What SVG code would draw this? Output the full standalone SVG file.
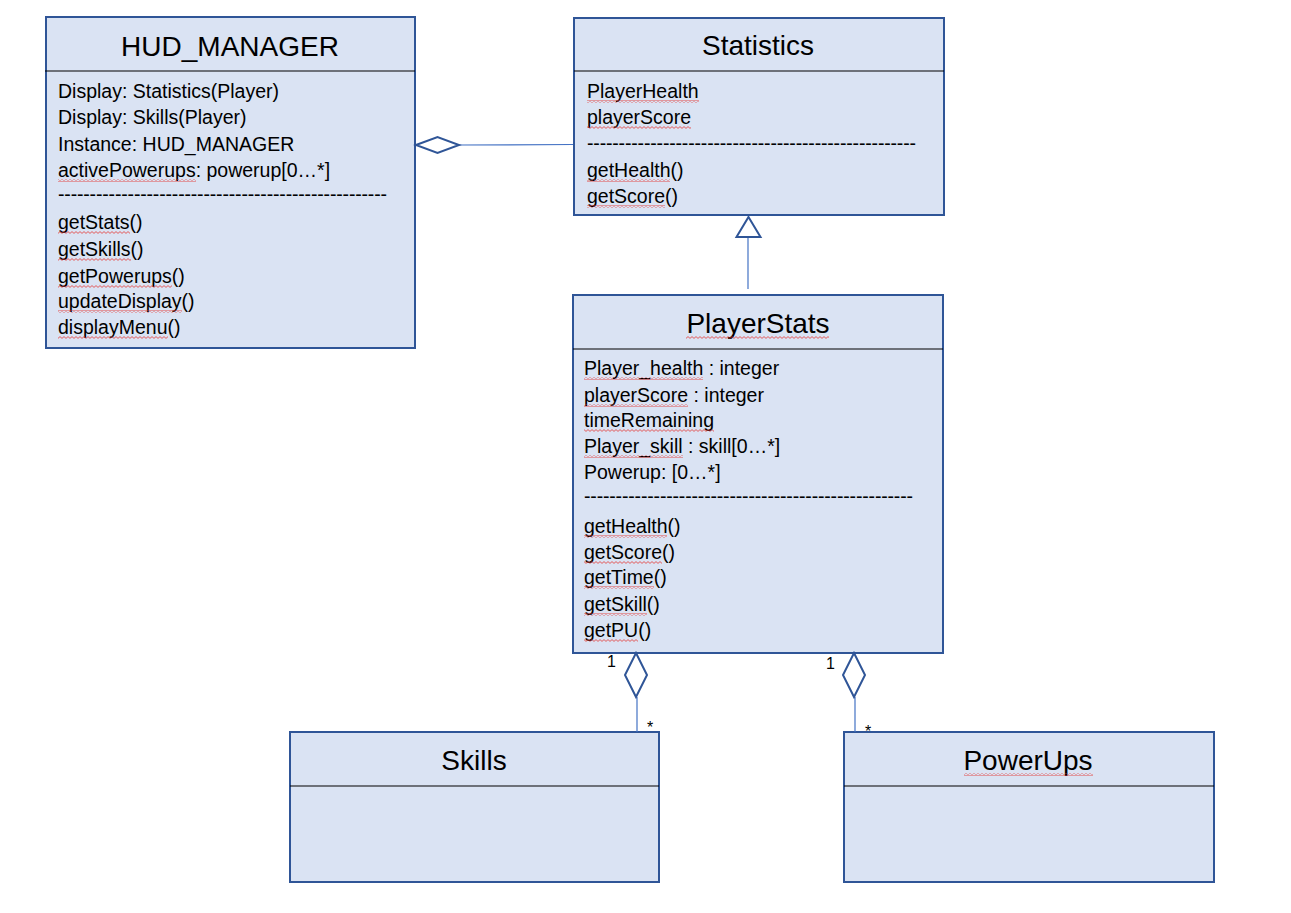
<svg xmlns="http://www.w3.org/2000/svg" width="1291" height="913" viewBox="0 0 1291 913">
<style>
.box{fill:#DAE3F3;stroke:#2F5597;stroke-width:2}
.div{stroke:#000;stroke-width:1.2}
.title{font-family:"Liberation Sans",Arial,sans-serif;font-size:28px;fill:#000;text-anchor:middle}
.t{font-family:"Liberation Sans",Arial,sans-serif;font-size:19.5px;fill:#000}
.m{font-family:"Liberation Sans",Arial,sans-serif;font-size:16px;fill:#000}
.sq{fill:url(#squig)}
.line{stroke:#4472C4;stroke-width:1.2;fill:none}
.dia{fill:#fff;stroke:#2F5597;stroke-width:2}
</style>
<defs>
<pattern id="squig" x="0" y="0" width="4" height="3" patternUnits="userSpaceOnUse">
<path d="M0 0.6 L2 2.4 L4 0.6" fill="none" stroke="#E53935" stroke-width="0.8"/>
</pattern>
</defs>

<g id="HUD_MANAGER">
<rect class="box" x="46" y="17" width="369" height="331"/>
<line class="div" x1="45" y1="71" x2="415" y2="71"/>
<text class="title" x="230" y="56">HUD_MANAGER</text>
<text class="t" x="58" y="98">Display: Statistics(Player)</text>
<text class="t" x="58" y="124">Display: Skills(Player)</text>
<text class="t" x="58" y="151">Instance: HUD_MANAGER</text>
<text class="t" x="58" y="177">activePowerups: powerup[0…*]</text>
<text class="t" x="58" y="201" textLength="329" lengthAdjust="spacing">----------------------------------------------------</text>
<text class="t" x="58" y="229">getStats()</text>
<text class="t" x="58" y="256">getSkills()</text>
<text class="t" x="58" y="283">getPowerups()</text>
<text class="t" x="58" y="308">updateDisplay()</text>
<text class="t" x="58" y="334">displayMenu()</text>
<rect class="sq" x="58" y="179" width="138" height="3"/>
<rect class="sq" x="58" y="231" width="72" height="3"/>
<rect class="sq" x="58" y="258" width="73" height="3"/>
<rect class="sq" x="58" y="285" width="114" height="3"/>
<rect class="sq" x="58" y="310" width="124" height="3"/>
<rect class="sq" x="58" y="336" width="110" height="3"/>
</g>

<g id="Statistics">
<rect class="box" x="574" y="18" width="370" height="197"/>
<line class="div" x1="574" y1="71" x2="944" y2="71"/>
<text class="title" x="758" y="55">Statistics</text>
<text class="t" x="587" y="98">PlayerHealth</text>
<text class="t" x="587" y="124">playerScore</text>
<text class="t" x="587" y="150" textLength="329" lengthAdjust="spacing">----------------------------------------------------</text>
<text class="t" x="587" y="177">getHealth()</text>
<text class="t" x="587" y="203">getScore()</text>
<rect class="sq" x="587" y="100" width="112" height="3"/>
<rect class="sq" x="587" y="126" width="104" height="3"/>
<rect class="sq" x="587" y="179" width="83" height="3"/>
<rect class="sq" x="587" y="205" width="78" height="3"/>
</g>

<g id="PlayerStats">
<rect class="box" x="573" y="295" width="370" height="358"/>
<line class="div" x1="573" y1="349" x2="943" y2="349"/>
<text class="title" x="758" y="333">PlayerStats</text>
<rect class="sq" x="686" y="336" width="143" height="3"/>
<text class="t" x="584" y="375">Player_health : integer</text>
<text class="t" x="584" y="402">playerScore : integer</text>
<text class="t" x="584" y="427">timeRemaining</text>
<text class="t" x="584" y="453">Player_skill : skill[0…*]</text>
<text class="t" x="584" y="479">Powerup: [0…*]</text>
<text class="t" x="584" y="503" textLength="329" lengthAdjust="spacing">----------------------------------------------------</text>
<text class="t" x="584" y="533">getHealth()</text>
<text class="t" x="584" y="559">getScore()</text>
<text class="t" x="584" y="584">getTime()</text>
<text class="t" x="584" y="611">getSkill()</text>
<text class="t" x="584" y="637">getPU()</text>
<rect class="sq" x="584" y="377" width="119" height="3"/>
<rect class="sq" x="584" y="404" width="104" height="3"/>
<rect class="sq" x="584" y="429" width="130" height="3"/>
<rect class="sq" x="584" y="455" width="99" height="3"/>
<rect class="sq" x="584" y="535" width="83" height="3"/>
<rect class="sq" x="584" y="561" width="78" height="3"/>
<rect class="sq" x="584" y="586" width="70" height="3"/>
<rect class="sq" x="584" y="613" width="63" height="3"/>
<rect class="sq" x="584" y="639" width="54" height="3"/>
</g>

<g id="Skills">
<rect class="box" x="290" y="732" width="369" height="150"/>
<line class="div" x1="290" y1="786" x2="659" y2="786"/>
<text class="title" x="474" y="770">Skills</text>
</g>

<g id="PowerUps">
<rect class="box" x="844" y="732" width="370" height="150"/>
<line class="div" x1="844" y1="786" x2="1214" y2="786"/>
<text class="title" x="1028" y="770">PowerUps</text>
<rect class="sq" x="964" y="773" width="129" height="3"/>
</g>

<g id="connectors">
<line class="line" x1="459" y1="145" x2="573" y2="144.5"/>
<path class="dia" d="M416 145 L437.5 137 L459 145 L437.5 153 Z"/>

<line class="line" x1="748" y1="237" x2="748" y2="289"/>
<path class="dia" d="M748.5 217 L760.5 237 L736.5 237 Z"/>

<line class="line" x1="637" y1="697" x2="637" y2="732"/>
<path class="dia" d="M636 653 L647 675 L636 697 L625 675 Z"/>
<text class="m" x="607" y="667">1</text>
<text class="m" x="647" y="733">*</text>

<line class="line" x1="855" y1="697" x2="855" y2="732"/>
<path class="dia" d="M854 653 L865 675 L854 697 L843 675 Z"/>
<text class="m" x="826" y="669">1</text>
<text class="m" x="865" y="737">*</text>
</g>
</svg>
